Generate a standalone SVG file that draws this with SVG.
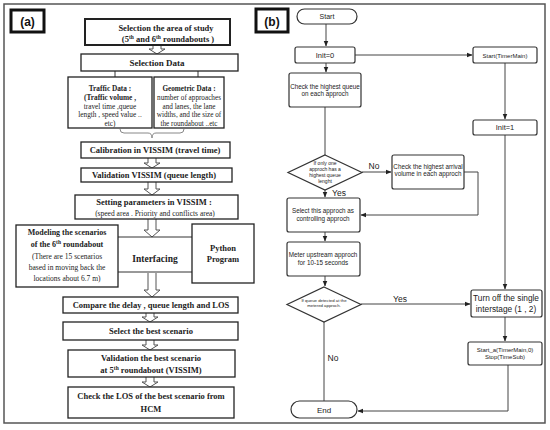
<svg xmlns="http://www.w3.org/2000/svg" width="550" height="430" viewBox="0 0 550 430">
<defs>
<style>
.frame{fill:#fff;stroke:#555;stroke-width:1.5}
.lab{fill:#fff;stroke:#111;stroke-width:3}
.labt{font-family:"Liberation Sans",Arial,sans-serif;font-weight:bold;font-size:12px;text-anchor:middle;fill:#111}
.ab{fill:#fff;stroke:#222;stroke-width:1.3}
.ab2{fill:#fff;stroke:#222;stroke-width:2}
.at{font-family:"Liberation Serif","Times New Roman",serif;font-weight:bold;text-anchor:middle;fill:#222}
.an{font-weight:normal}
.harrow{fill:#fff;stroke:#555;stroke-width:1}
.brace{fill:none;stroke:#888;stroke-width:1}
.iline{stroke:#333;stroke-width:1;fill:none}
.bb{fill:#fff;stroke:#333;stroke-width:1.2}
.bt{font-family:"Liberation Sans",Arial,sans-serif;text-anchor:middle;fill:#222}
.conn{fill:none;stroke:#444;stroke-width:1}
</style>
<marker id="ah" viewBox="0 0 10 10" refX="9" refY="5" markerWidth="6" markerHeight="6" orient="auto-start-reverse">
<path d="M0,1 L10,5 L0,9 z" fill="#222"/>
</marker>
</defs>

<rect class="frame" x="4" y="4" width="541" height="419"/>

<g id="label-a"><rect class="lab" x="11" y="10" width="33" height="22"/><text class="labt" x="27.5" y="25.5">(a)</text></g>
<g id="label-b"><rect class="lab" x="256" y="9" width="32" height="23"/><text class="labt" x="272" y="25.5">(b)</text></g>

<!-- Panel (a) connectors -->
<g id="connectors-a">
<path class="harrow" d="M153,45 V49 H149 L157,54 L165,49 H161 V45"/>
<line class="iline" x1="115" y1="71" x2="115" y2="77"/>
<line class="iline" x1="198" y1="71" x2="198" y2="77"/>
<path class="brace" d="M120,129 q0,4 4,4 h24 q4,0 4,5 q0,-5 4,-5 h24 q4,0 4,-4"/>
<path class="harrow" d="M148,158 V163 H144 L152,168 L160,163 H156 V158"/>
<path class="harrow" d="M148,182 V189 H144 L152,195 L160,189 H156 V182"/>
<path class="harrow" d="M148,219 V230 H144 L152,237 L160,230 H156 V219"/>
<line class="iline" x1="118" y1="237" x2="192" y2="237"/>
<line class="iline" x1="118" y1="272" x2="192" y2="272"/>
<path class="harrow" d="M148,273 V290 H144 L152,297 L160,290 H156 V273"/>
<path class="harrow" d="M146,313 V317 H142 L150,322 L158,317 H154 V313"/>
<path class="harrow" d="M146,340 V345 H142 L150,350 L158,345 H154 V340"/>
<path class="harrow" d="M146,377 V382 H142 L150,387 L158,382 H154 V377"/>
</g>

<g id="a-study">
<rect class="ab2" x="85" y="19" width="145" height="26"/>
<text class="at" font-size="8.5" x="166" y="31">Selection the area of study</text>
<text class="at" font-size="8.5" x="168" y="42">(5<tspan font-size="5.5" dy="-3">th</tspan><tspan dy="3"> and 6</tspan><tspan font-size="5.5" dy="-3">th</tspan><tspan dy="3"> roundabouts )</tspan></text>
</g>
<g id="a-seldata">
<rect class="ab" x="81" y="54" width="157" height="17"/>
<text class="at" font-size="9" x="157" y="65.5">Selection  Data</text>
</g>
<g id="a-traffic">
<rect class="ab" x="68" y="77" width="84" height="51"/>
<text class="at" font-size="7.3" x="110" y="91">Traffic Data :</text>
<text class="at" font-size="7.3" x="110" y="100">(Traffic volume ,</text>
<text class="at an" font-size="7.3" x="110" y="108.5">travel time ,queue</text>
<text class="at an" font-size="7.3" x="110" y="117">length , speed value ..</text>
<text class="at an" font-size="7.3" x="110" y="125.5">etc)</text>
</g>
<g id="a-geometric">
<rect class="ab" x="154" y="77" width="70" height="51"/>
<text class="at" font-size="7.2" x="189" y="91">Geometric Data :</text>
<text class="at an" font-size="7.2" x="189" y="100">number of approaches</text>
<text class="at an" font-size="7.2" x="189" y="108.5">and lanes, the lane</text>
<text class="at an" font-size="7.2" x="189" y="117">widths, and the size of</text>
<text class="at an" font-size="7.2" x="189" y="125.5">the roundabout ..etc</text>
</g>
<g id="a-calibration">
<rect class="ab" x="81" y="142" width="149" height="16"/>
<text class="at" font-size="8.5" x="155" y="153">Calibration in VISSIM (travel time)</text>
</g>
<g id="a-validation">
<rect class="ab" x="81" y="168" width="151" height="14"/>
<text class="at" font-size="8.5" x="154" y="178">Validation VISSIM (queue length)</text>
</g>
<g id="a-setting">
<rect class="ab" x="75" y="195" width="163" height="24"/>
<text class="at" font-size="8.5" x="154" y="205">Setting parameters in VISSIM :</text>
<text class="at an" font-size="7.5" x="155" y="215.5">(speed area . Priority and  conflicts area)</text>
</g>
<g id="a-modeling">
<rect class="ab" x="16" y="225" width="102" height="62"/>
<text class="at" font-size="8" x="67" y="235">Modeling the scenarios</text>
<text class="at" font-size="8" x="67" y="247">of the 6<tspan font-size="5.5" dy="-3">th</tspan><tspan dy="3"> roundabout</tspan></text>
<text class="at an" font-size="7.5" x="67" y="259">(There are 15 scenarios</text>
<text class="at an" font-size="7.5" x="67" y="270">based in moving back the</text>
<text class="at an" font-size="7.5" x="67" y="281">locations about 6.7 m)</text>
</g>
<g id="a-interfacing">
<text class="at" font-size="9.5" x="155" y="262">Interfacing</text>
</g>
<g id="a-python">
<rect class="ab" x="192" y="224" width="62" height="59"/>
<text class="at" font-size="8.5" x="223" y="251">Python</text>
<text class="at" font-size="8.5" x="223" y="262">Program</text>
</g>
<g id="a-compare">
<rect class="ab" x="63" y="297" width="175" height="16"/>
<text class="at" font-size="8.5" x="151" y="308">Compare the delay , queue length and LOS</text>
</g>
<g id="a-select">
<rect class="ab" x="63" y="322" width="175" height="18"/>
<text class="at" font-size="8.5" x="151" y="334">Select the best scenario</text>
</g>
<g id="a-valbest">
<rect class="ab" x="68" y="350" width="167" height="27"/>
<text class="at" font-size="8.5" x="151" y="361">Validation the best scenario</text>
<text class="at" font-size="8.5" x="151" y="373">at 5<tspan font-size="5.5" dy="-3">th</tspan><tspan dy="3"> roundabout (VISSIM)</tspan></text>
</g>
<g id="a-checklos">
<rect class="ab" x="68" y="387" width="166" height="31"/>
<text class="at" font-size="8.5" x="151" y="399">Check the LOS of the best scenario from</text>
<text class="at" font-size="8.5" x="151" y="412">HCM</text>
</g>

<!-- Panel (b) connectors -->
<g id="connectors-b">
<path class="conn" d="M326,24 V46" marker-end="url(#ah)"/>
<path class="conn" d="M355,55 H472" marker-end="url(#ah)"/>
<path class="conn" d="M505,63 V119" marker-end="url(#ah)"/>
<path class="conn" d="M505,135 V289" marker-end="url(#ah)"/>
<path class="conn" d="M326,63 V72" marker-end="url(#ah)"/>
<path class="conn" d="M325,107 V155"/>
<path class="conn" d="M362,172 H391" marker-end="url(#ah)"/>
<path class="conn" d="M464,172 H478 V215 H361" marker-end="url(#ah)"/>
<path class="conn" d="M325,190 V197" marker-end="url(#ah)"/>
<path class="conn" d="M325,232 V241" marker-end="url(#ah)"/>
<path class="conn" d="M325,276 V286" marker-end="url(#ah)"/>
<path class="conn" d="M361,304 H470" marker-end="url(#ah)"/>
<path class="conn" d="M324,322 V401"/>
<path class="conn" d="M505,317 V341" marker-end="url(#ah)"/>
<path class="conn" d="M508,365 V411 H358" marker-end="url(#ah)"/>
<text class="bt" font-size="8.5" x="374" y="169">No</text>
<text class="bt" font-size="8.5" x="339" y="196">Yes</text>
<text class="bt" font-size="8.5" x="400" y="302">Yes</text>
<text class="bt" font-size="8.5" x="333" y="361">No</text>
</g>

<g id="b-start">
<rect class="bb" x="297" y="9" width="60" height="15" rx="7.5"/>
<text class="bt" font-size="7" x="327" y="19">Start</text>
</g>
<g id="b-init0">
<rect class="bb" x="295" y="47" width="60" height="16" rx="2"/>
<text class="bt" font-size="7.5" x="325" y="58">Init=0</text>
</g>
<g id="b-starttimer">
<rect class="bb" x="473" y="47" width="64" height="16" rx="2"/>
<text class="bt" font-size="6" x="505" y="57.5">Start(TimerMain)</text>
</g>
<g id="b-init1">
<rect class="bb" x="473" y="120" width="64" height="15" rx="2"/>
<text class="bt" font-size="7.5" x="505" y="130">Init=1</text>
</g>
<g id="b-checkqueue">
<rect class="bb" x="289" y="73" width="72" height="34" rx="2"/>
<text class="bt" font-size="6.3" x="325" y="89">Check the highest queue</text>
<text class="bt" font-size="6.3" x="325" y="96">on each approch</text>
</g>
<g id="b-decision1">
<polygon class="bb" points="325,155 362,172.5 325,190 288,172.5"/>
<text class="bt" font-size="5" x="325" y="164.5">If only one</text>
<text class="bt" font-size="5" x="325" y="170.5">approch has a</text>
<text class="bt" font-size="5" x="325" y="176.5">highest queue</text>
<text class="bt" font-size="5" x="325" y="182.5">lenght</text>
</g>
<g id="b-checkarrival">
<rect class="bb" x="392" y="155" width="72" height="34" rx="2"/>
<text class="bt" font-size="6.3" x="428" y="169">Check the highest arrival</text>
<text class="bt" font-size="6.3" x="428" y="176">volume in each approch</text>
</g>
<g id="b-select">
<rect class="bb" x="287" y="198" width="73" height="34" rx="2"/>
<text class="bt" font-size="6.3" x="323" y="213">Select this approch as</text>
<text class="bt" font-size="6.3" x="323" y="220.5">controlling approch</text>
</g>
<g id="b-meter">
<rect class="bb" x="287" y="242" width="73" height="34" rx="2"/>
<text class="bt" font-size="6.3" x="323" y="257">Meter upstream approch</text>
<text class="bt" font-size="6.3" x="323" y="264.5">for 10-15 seconds</text>
</g>
<g id="b-decision2">
<polygon class="bb" points="324,287 361,304.5 324,322 287,304.5"/>
<text class="bt" font-size="4.3" x="324" y="302">If queue detected at the</text>
<text class="bt" font-size="4.3" x="324" y="307">metered approch.</text>
</g>
<g id="b-turnoff">
<rect class="bb" x="471" y="290" width="71" height="27" rx="2"/>
<text class="bt" font-size="8.3" x="506" y="301">Turn off the single</text>
<text class="bt" font-size="8.3" x="506" y="312">interstage (1 , 2)</text>
</g>
<g id="b-starta">
<rect class="bb" x="468" y="342" width="74" height="23" rx="2"/>
<text class="bt" font-size="6" x="505" y="352">Start_a(TimerMain,0)</text>
<text class="bt" font-size="6" x="505" y="359">Stop(TimeSub)</text>
</g>
<g id="b-end">
<rect class="bb" x="291" y="401" width="66" height="17" rx="8.5"/>
<text class="bt" font-size="8" x="324" y="412.5">End</text>
</g>
</svg>
